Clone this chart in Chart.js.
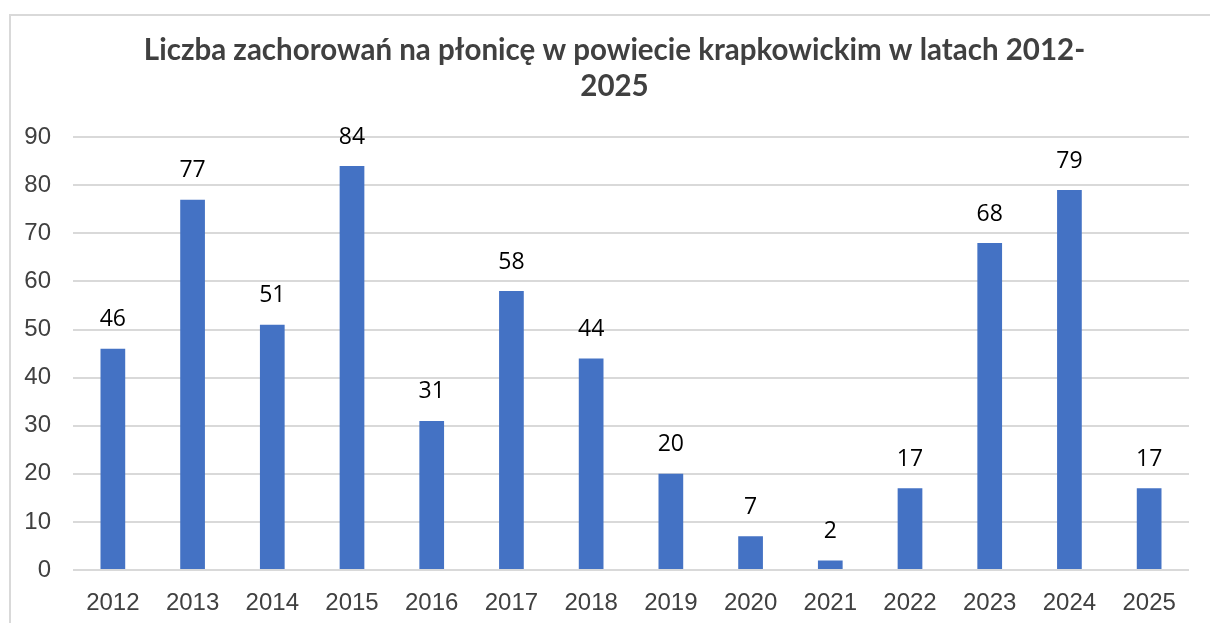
<!DOCTYPE html>
<html>
<head>
<meta charset="utf-8">
<script src="https://cdn.jsdelivr.net/npm/chart.js@4.4.1/dist/chart.umd.min.js"></script>
<style>
  html, body { margin: 0; padding: 0; background: #fff; }
  #wrap { width: 1210px; height: 623px; position: relative; }
</style>
</head>
<body>
<div id="wrap"><canvas id="chart"></canvas></div>
<script>
var years = ['2012', '2013', '2014', '2015', '2016', '2017', '2018', '2019', '2020', '2021', '2022', '2023', '2024', '2025'];
var cases = [46, 77, 51, 84, 31, 58, 44, 20, 7, 2, 17, 68, 79, 17];
var titleLines = ['Liczba zachorowań na płonicę w powiecie krapkowickim w latach 2012-', '2025'];

// light frame around the chart
var framePlugin = {
  id: 'frame',
  afterLayout: function (chart) {
    // centre the title over the framed area, not the whole canvas
    if (chart.titleBlock) {
      chart.titleBlock.left = 40;
    }
  },
  beforeDraw: function (chart) {
    var c = chart.ctx;
    c.save();
    c.fillStyle = '#fff';
    c.fillRect(0, 0, chart.width, chart.height);
    c.strokeStyle = '#d9d9d9';
    c.lineWidth = 2;
    c.strokeRect(10, 15, chart.width + 20, chart.height + 20);
    c.restore();
  }
};

// value labels above the bars
var labelPlugin = {
  id: 'valueLabels',
  afterDatasetsDraw: function (chart) {
    var c = chart.ctx;
    var meta = chart.getDatasetMeta(0);
    c.save();
    c.font = '23px "Open Sans"';
    c.fillStyle = '#000';
    c.textAlign = 'center';
    c.textBaseline = 'middle';
    meta.data.forEach(function (bar, i) {
      c.fillText(String(cases[i]), bar.x, bar.y - 29);
    });
    c.restore();
  }
};

new Chart(document.getElementById('chart'), {
  type: 'bar',
  data: {
    labels: years,
    datasets: [{
      data: cases,
      backgroundColor: '#4472c4',
      barPercentage: 0.31,
      categoryPercentage: 1
    }]
  },
  options: {
    responsive: true,
    maintainAspectRatio: false,
    animation: false,
    layout: { padding: { left: 0, right: 21, top: 0, bottom: 0 } },
    plugins: {
      legend: { display: false },
      tooltip: { enabled: false },
      title: {
        display: true,
        text: titleLines,
        color: '#404040',
        font: { family: 'Lato', size: 29.5, weight: 'bold', lineHeight: 1.24 },
        padding: { top: 32, bottom: 32 }
      }
    },
    scales: {
      x: {
        grid: { display: false },
        border: { display: false },
        ticks: { color: '#404040', font: { family: '"Liberation Sans"', size: 24 }, padding: 11 },
        afterFit: function (s) { s.height = 53; }
      },
      y: {
        min: 0,
        max: 90,
        ticks: { stepSize: 10, color: '#404040', font: { family: '"Liberation Sans"', size: 24 }, padding: 22 },
        grid: { color: '#d9d9d9', lineWidth: 2, drawTicks: false },
        border: { display: false },
        afterFit: function (s) { s.width = 73; }
      }
    }
  },
  plugins: [framePlugin, labelPlugin]
});
</script>
</body>
</html>
